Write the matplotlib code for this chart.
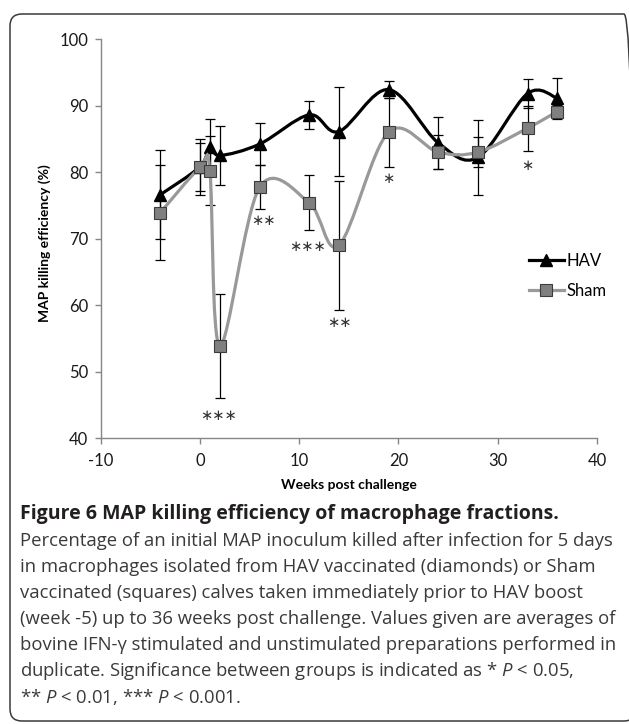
import matplotlib.pyplot as plt
import numpy as np
from matplotlib.path import Path
from matplotlib.patches import PathPatch, FancyBboxPatch
from matplotlib.lines import Line2D
from matplotlib.transforms import IdentityTransform

plt.rcParams['font.family'] = ['Lato', 'DejaVu Sans']
plt.rcParams['axes.unicode_minus'] = False
plt.rcParams['mathtext.fontset'] = 'custom'
plt.rcParams['mathtext.it'] = 'Open Sans:italic'
plt.rcParams['mathtext.rm'] = 'Open Sans'

# data
weeks = [-4, 0, 1, 2, 6, 11, 14, 19, 24, 28, 33, 36]
hav = [76.6, 80.8, 83.8, 82.5, 84.2, 88.6, 86.1, 92.4, 84.4, 82.2, 91.8, 91.1]
hav_err = [6.7, 4.2, 4.2, 4.4, 3.2, 2.1, 6.7, 1.3, 3.9, 5.7, 2.2, 3.1]
sham = [73.9, 80.7, 80.2, 53.9, 77.7, 75.4, 69.0, 86.0, 83.0, 83.0, 86.6, 89.1]
sham_err = [7.1, 3.6, 5.2, 7.8, 3.3, 4.1, 9.7, 5.2, 2.6, 2.3, 3.4, 1.0]

sig_x = [1.85, 6.35, 10.8, 14.05, 19, 33]
sig_y = [43.5, 72.7, 68.8, 57.4, 79.1, 81.0]
sig_text = ['∗∗∗', '∗∗', '∗∗∗', '∗∗', '∗', '∗']

caption_title = "Figure 6 MAP killing efficiency of macrophage fractions."
caption_lines = [
    "Percentage of an initial MAP inoculum killed after infection for 5 days",
    "in macrophages isolated from HAV vaccinated (diamonds) or Sham",
    "vaccinated (squares) calves taken immediately prior to HAV boost",
    "(week -5) up to 36 weeks post challenge. Values given are averages of",
    "bovine IFN-\u03b3 stimulated and unstimulated preparations performed in",
    "duplicate. Significance between groups is indicated as * $P$ < 0.05,",
    "** $P$ < 0.01, *** $P$ < 0.001.",
]


def smooth_path(x, y):
    # Catmull-Rom style bezier, like a spreadsheet "smoothed line"
    pts = np.column_stack([x, y]).astype(float)
    p = np.vstack([pts[0], pts, pts[-1]])
    verts = [pts[0]]
    codes = [Path.MOVETO]
    for i in range(1, len(p) - 2):
        c1 = p[i] + (p[i + 1] - p[i - 1]) / 6
        c2 = p[i + 1] - (p[i + 2] - p[i]) / 6
        verts += [c1, c2, p[i + 1]]
        codes += [Path.CURVE4] * 3
    return Path(verts, codes)


W, H = 629, 724
fig = plt.figure(figsize=(W / 100, H / 100), dpi=100)

# rounded frame around the whole figure
frame = FancyBboxPatch((10, H - 721), 626, 707,
                       boxstyle="round,pad=0,rounding_size=12",
                       transform=IdentityTransform(), fill=False,
                       ec='#3a3a3a', lw=1.1)
fig.patches.append(frame)

ax = fig.add_axes([100.7 / W, 1 - 438.3 / H, 496.3 / W, 399.3 / H])

ax.errorbar(weeks, hav, yerr=hav_err, fmt='none', ecolor='black',
            elinewidth=0.9, capsize=3.6, capthick=0.9, zorder=4)
ax.errorbar(weeks, sham, yerr=sham_err, fmt='none', ecolor='black',
            elinewidth=0.9, capsize=3.6, capthick=0.9, zorder=4)

ax.add_patch(PathPatch(smooth_path(weeks, hav), fill=False, ec='black',
                       lw=2.3, zorder=3))
ax.plot(weeks, hav, ls='none', marker='^', ms=8, color='black', zorder=5)

ax.add_patch(PathPatch(smooth_path(weeks, sham), fill=False, ec='#999999',
                       lw=2.3, zorder=6))
ax.plot(weeks, sham, ls='none', marker='s', ms=8.8, mfc='#808080',
        mec='#3c3c3c', mew=0.8, zorder=7)

for x, y, t in zip(sig_x, sig_y, sig_text):
    ax.text(x, y, t, ha='center', va='center', fontsize=10.5,
            family='DejaVu Sans', color='#333333')

ax.set_xlim(-10, 40)
ax.set_ylim(40, 100)
ax.set_xticks(range(-10, 41, 10))
ax.set_yticks(range(40, 101, 10))
for s in ['top', 'right']:
    ax.spines[s].set_visible(False)
for s in ['left', 'bottom']:
    ax.spines[s].set_color('#868686')
    ax.spines[s].set_linewidth(1)
ax.tick_params(colors='#868686', labelcolor='#1a1a1a', length=4,
               width=1, labelsize=12)
ax.tick_params(axis='x', pad=6.5)
ax.tick_params(axis='y', pad=5)

ax.set_xlabel('Weeks post challenge', fontsize=10, fontweight='bold',
              labelpad=7)
ax.set_ylabel('MAP killing efficiency (%)', fontsize=10, fontweight='bold',
              va='center')
ax.yaxis.set_label_coords(45 / W, 1 - 243 / H, transform=fig.transFigure)

handles = [
    Line2D([], [], color='black', lw=2.3, marker='^', ms=8),
    Line2D([], [], color='#999999', lw=2.3, marker='s', ms=8.8,
           mfc='#808080', mec='#3c3c3c', mew=0.8),
]
ax.legend(handles, ['HAV', 'Sham'], loc='upper left',
          bbox_to_anchor=(33.1, 67.9), bbox_transform=ax.transData,
          frameon=False, fontsize=12, handlelength=2.1,
          handletextpad=0.2, labelspacing=0.85, borderpad=0,
          borderaxespad=0)

# caption
fig.text(20 / W, 1 - 514 / H, caption_title, fontsize=14,
         fontweight='bold', family='Open Sans', color='#231f20',
         va='center', ha='left')
for k, line in enumerate(caption_lines):
    fig.text(20 / W, 1 - (541.5 + 25.9 * k) / H, line, fontsize=13.3,
             family='Open Sans', color='#3a3a3a', va='center', ha='left')

fig.savefig('out.png', dpi=100)
